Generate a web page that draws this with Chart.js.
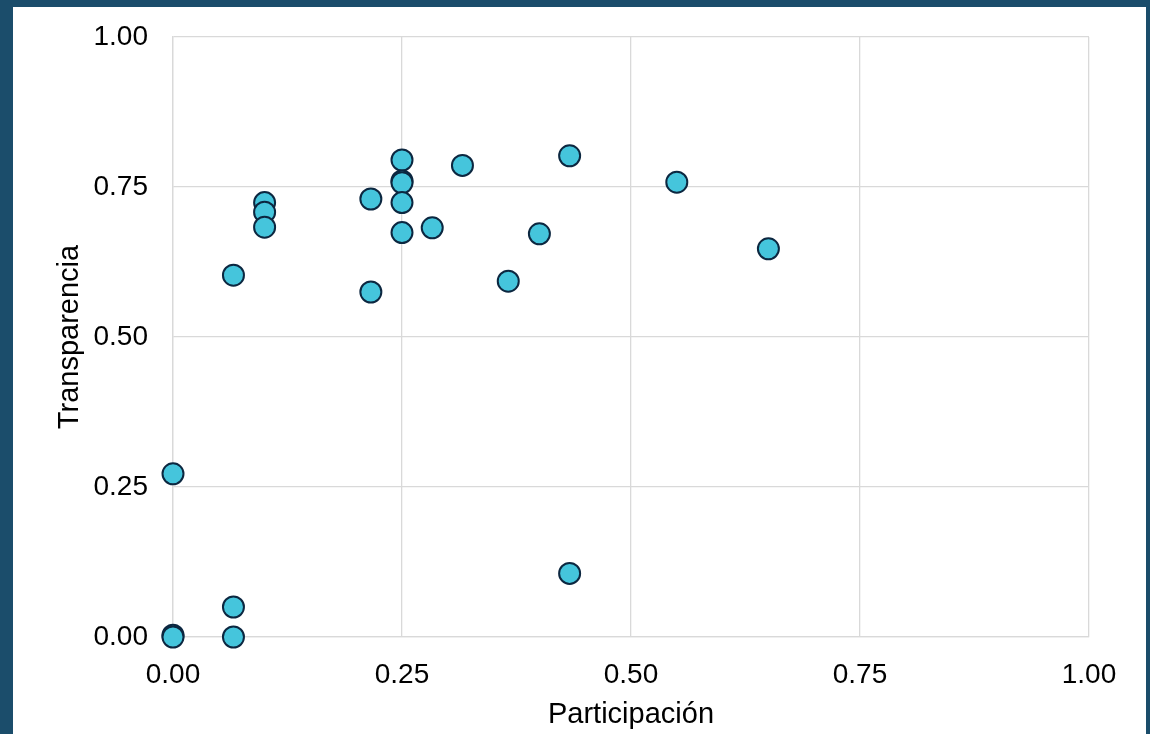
<!DOCTYPE html>
<html>
<head>
<meta charset="utf-8">
<script src="https://cdn.jsdelivr.net/npm/chart.js@4"></script>
<style>
  html, body { margin: 0; padding: 0; }
  body { width: 1150px; height: 734px; background: #1b4d6b; position: relative; overflow: hidden; }
  #box { position: absolute; left: 13px; top: 7px; width: 1133px; height: 727px; background: #fff; }
</style>
</head>
<body>
<div id="box"><canvas id="myChart" width="1133" height="727"></canvas></div>
<script>
// Participación (x) vs Transparencia (y)
var participacion = [0.000, 0.000, 0.000, 0.066, 0.066, 0.066, 0.100, 0.100, 0.100, 0.216, 0.216,
  0.250, 0.250, 0.250, 0.250, 0.250, 0.283, 0.316, 0.366, 0.400, 0.433, 0.433, 0.550, 0.650];
var transparencia = [0.272, 0.003, 0.000, 0.603, 0.050, 0.000, 0.724, 0.708, 0.683, 0.730, 0.575,
  0.795, 0.760, 0.757, 0.724, 0.674, 0.682, 0.786, 0.593, 0.672, 0.802, 0.106, 0.758, 0.647];
var ticksEje = [0, 0.25, 0.5, 0.75, 1];

var puntos = [];
for (var i = 0; i < participacion.length; i++) {
  puntos.push({ x: participacion[i], y: transparencia[i] });
}

var fuente = 'Liberation Sans, Arial, sans-serif';
var gris = '#d9d9d9';

var ctx = document.getElementById('myChart').getContext('2d');
var chart = new Chart(ctx, {
  type: 'scatter',
  data: {
    datasets: [{
      data: puntos,
      backgroundColor: '#45c5dc',
      borderColor: '#0c2740',
      borderWidth: 2,
      pointRadius: 10.5,
      pointHoverRadius: 10.5,
      clip: false
    }]
  },
  options: {
    responsive: false,
    animation: false,
    layout: { padding: { top: 30, right: 57, left: 0, bottom: 0 } },
    plugins: { legend: { display: false }, tooltip: { enabled: false } },
    scales: {
      x: {
        type: 'linear', min: 0, max: 1,
        afterBuildTicks: function (ax) { ax.ticks = ticksEje.map(function (v) { return { value: v }; }); },
        afterFit: function (ax) { ax.height = 97; },
        grid: { color: gris, lineWidth: 1.3, drawTicks: false },
        border: { color: gris, width: 1.3 },
        ticks: { color: '#000', padding: 21, font: { family: fuente, size: 28 }, maxRotation: 0,
          callback: function (v) { return v.toFixed(2); } },
        title: { display: true, text: 'Participación', color: '#000', font: { family: fuente, size: 29 }, padding: { top: 0, bottom: 2 } }
      },
      y: {
        type: 'linear', min: 0, max: 1,
        afterBuildTicks: function (ax) { ax.ticks = ticksEje.map(function (v) { return { value: v }; }); },
        afterFit: function (ax) { ax.width = 160; ax.paddingTop = 0; },
        grid: { color: gris, lineWidth: 1.3, drawTicks: false },
        border: { color: gris, width: 1.3 },
        ticks: { color: '#000', padding: 25, font: { family: fuente, size: 28 },
          callback: function (v) { return v.toFixed(2); } },
        title: { display: true, text: 'Transparencia', color: '#000', font: { family: fuente, size: 29 }, padding: { top: 40, bottom: 0 } }
      }
    }
  }
});
</script>
</body>
</html>
